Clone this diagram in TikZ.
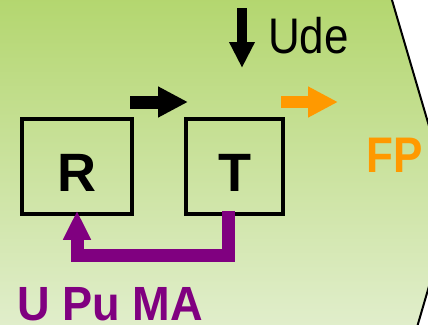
\documentclass[tikz,border=0pt]{standalone}
\usepackage{fontspec}
\setmainfont{Liberation Sans}
\usetikzlibrary{arrows.meta}
\usetikzlibrary{calc}
\usetikzlibrary{positioning}
\definecolor{fondhaut}{HTML}{B3D66E}
\definecolor{fondbas}{HTML}{E1EECC}
\definecolor{pourpre}{HTML}{800080}
\definecolor{orangefp}{HTML}{FF9900}

\begin{document}
\begin{tikzpicture}[x=1pt,y=-1pt,
  boite/.style={draw,line width=3.5pt,minimum width=110pt,minimum height=95pt,inner sep=0pt,
    font={\fontsize{54pt}{54pt}\selectfont\bfseries},text height=49pt},
  fleche/.style={line width=13pt,-{Triangle[length=30pt,width=29pt]}},
  retour/.style={draw=pourpre,line width=13pt,-{Triangle[length=29pt,width=26pt]}},
  texte/.style={anchor=base west,inner sep=0pt}]
\useasboundingbox (0,0) rectangle (428,324);
% fond
\fill[white] (0,0) rectangle (428,324);
\begin{scope}
\clip (0,0) rectangle (428,324);
\shade[top color=fondhaut,bottom color=fondbas] (-5,-5) -- (390.5,-5) -- (452.5,206) -- (416.5,329) -- (-5,329) -- cycle;
\draw[line width=2pt] (390.5,-5) -- (452.5,206) -- (416.5,329);
\end{scope}
% boites
\node[boite] (R) at (77,166.5) {R};
\node[boite,minimum width=97pt] (T) at (234.5,166.5) {T};
% fleches
\coordinate (e1) at (130,102);
\coordinate (s1) at (188,102);
\draw[fleche] (e1) -- (s1);
\coordinate (haut) at (242,8);
\coordinate (bas) at (242,68);
\draw[fleche,line width=10pt,-{Triangle[length=26pt,width=24pt]}] (haut) -- (bas);
\coordinate (e2) at (281,102);
\coordinate (s2) at (338,102);
\draw[fleche,color=orangefp,line width=12pt] (e2) -- (s2);
\draw[retour] ([xshift=-6.5pt,yshift=5pt]T.south) -- ++(0,45) -| ([yshift=5pt]R.south);
% textes
\node[texte,font={\fontsize{50pt}{50pt}\selectfont},xscale=0.88] (ude) at (268,53) {Ude};
\node[texte,text=orangefp,font={\fontsize{50pt}{50pt}\selectfont\bfseries},xscale=0.88] (fp) at (366,172) {FP};
\node[texte,text=pourpre,font={\fontsize{48pt}{48pt}\selectfont\bfseries},xscale=0.94] (upuma) at (17,320.5) {U Pu MA};
\end{tikzpicture}
\end{document}
